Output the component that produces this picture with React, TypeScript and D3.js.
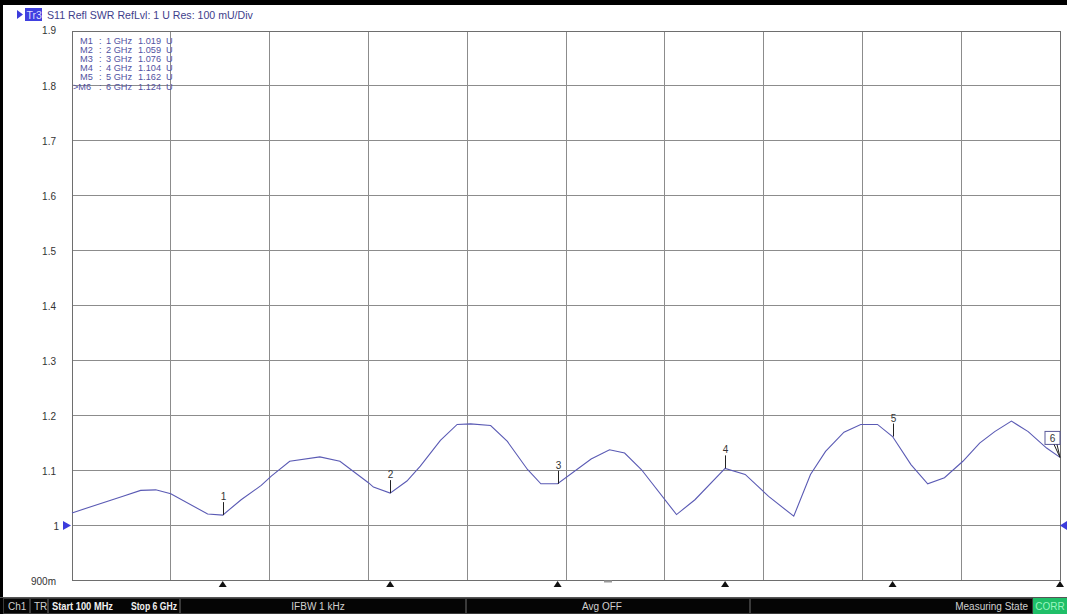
import * as d3 from "d3";

// sweep 100 MHz .. 6 GHz, S11 SWR trace
const freqGHz = [
  0.1, 0.4, 0.51, 0.6, 0.69, 0.91, 1.0, 1.11, 1.23, 1.29, 1.4, 1.58, 1.7, 1.87, 1.9, 2.0,
  2.1, 2.18, 2.3, 2.4, 2.48, 2.6, 2.7, 2.82, 2.9, 3.0, 3.2, 3.31, 3.4, 3.5, 3.71, 3.82,
  4.0, 4.12, 4.26, 4.41, 4.51, 4.6, 4.71, 4.81, 4.91, 5.0, 5.11, 5.21, 5.31, 5.42, 5.52,
  5.61, 5.71, 5.81, 5.92, 6.0,
];
const swr = [
  1.023, 1.053, 1.064, 1.065, 1.058, 1.021, 1.019, 1.047, 1.073, 1.09, 1.117, 1.125, 1.117,
  1.078, 1.07, 1.059, 1.081, 1.108, 1.155, 1.184, 1.185, 1.182, 1.153, 1.102, 1.076, 1.076,
  1.121, 1.138, 1.132, 1.102, 1.02, 1.047, 1.104, 1.093, 1.053, 1.017, 1.093, 1.135, 1.17,
  1.184, 1.184, 1.162, 1.111, 1.076, 1.087, 1.117, 1.15, 1.171, 1.19, 1.171, 1.141, 1.124,
];

const markerNames = ["M1", "M2", "M3", "M4", "M5", "M6"];
const markerFreq = [1, 2, 3, 4, 5, 6];
const markerVal = [1.019, 1.059, 1.076, 1.104, 1.162, 1.124];

const yTicks = [1.9, 1.8, 1.7, 1.6, 1.5, 1.4, 1.3, 1.2, 1.1, 1.0, 0.9];
const yTickLabels = ["1.9", "1.8", "1.7", "1.6", "1.5", "1.4", "1.3", "1.2", "1.1", "1", "900m"];

const header = "S11 Refl SWR RefLvl: 1  U Res: 100 mU/Div";

const W = 1067;
const H = 614;
const L = 72;
const R = 1060;
const T = 31;
const B = 580.5;

const x = d3.scaleLinear().domain([0.1, 6]).range([L, R]);
const y = d3.scaleLinear().domain([0.9, 1.9]).range([B, T]);

const TRACE = "#5a5ab4";
const GRID = "#8c8c8c";
const LEGEND = "#5252a2";
const FONT = "'Liberation Sans', Arial, sans-serif";

export default function App(): JSX.Element {
  const line = d3
    .line<number>()
    .x((_, i) => x(freqGHz[i]))
    .y((d) => y(d));

  const vDivs = d3.range(11).map((i) => L + ((R - L) * i) / 10);

  const status = [
    { x0: 3, x1: 30, text: "Ch1", anchor: "start", tx: 8 },
    { x0: 30, x1: 48, text: "TR", anchor: "start", tx: 34 },
    { x0: 48, x1: 180, text: "", anchor: "start", tx: 0 },
    { x0: 180, x1: 466, text: "IFBW 1 kHz", anchor: "middle", tx: 318 },
    { x0: 466, x1: 750, text: "Avg OFF", anchor: "middle", tx: 602 },
    { x0: 750, x1: 1033, text: "Measuring State", anchor: "end", tx: 1028 },
  ];

  return (
    <div style={{ position: "absolute", left: 0, top: 0, width: W, height: H }}>
      <svg width={W} height={H} viewBox={`0 0 ${W} ${H}`} style={{ display: "block" }}>
        <rect x={0} y={0} width={W} height={H} fill="#fff" />
        <rect x={0} y={0} width={W} height={5} fill="#000" />
        <rect x={0} y={0} width={3} height={H} fill="#000" />

        {/* title line */}
        <path d="M17,10 L23,14.5 L17,19 Z" fill="#3c3cdc" />
        <rect x={25} y={8} width={17} height={13} fill="#4040e0" />
        <text x={26.5} y={18.5} fontFamily={FONT} fontSize={10.5} fill="#dcdcff">
          Tr3
        </text>
        <text x={47} y={18.5} fontFamily={FONT} fontSize={10.6} fill="#3e3e8c">
          {header}
        </text>

        {/* grid */}
        <g stroke={GRID} strokeWidth={1} shapeRendering="crispEdges">
          {yTicks.map((t) => (
            <line key={`h${t}`} x1={L} x2={R} y1={y(t)} y2={y(t)} />
          ))}
          {vDivs.map((v, i) => (
            <line key={`v${i}`} x1={v} x2={v} y1={T} y2={B} />
          ))}
        </g>
        <rect x={L} y={T} width={R - L} height={B - T} fill="none" stroke="#6e6e6e" shapeRendering="crispEdges" />

        {/* y tick labels */}
        {yTicks.map((t, i) => (
          <text
            key={`yl${t}`}
            x={i === 9 ? 59 : 56}
            y={y(t) + (i === 0 ? 3 : 4)}
            textAnchor="end"
            fontFamily={FONT}
            fontSize={10}
            fill="#333"
          >
            {yTickLabels[i]}
          </text>
        ))}

        {/* reference level arrows */}
        <path d={`M63,${y(1) - 4.5} L71,${y(1)} L63,${y(1) + 4.5} Z`} fill="#3c3cdc" />
        <path d={`M1067,${y(1) - 4.5} L1060,${y(1)} L1067,${y(1) + 4.5} Z`} fill="#3c3cdc" />

        {/* marker table */}
        {markerNames.map((m, i) => (
          <text key={m} y={44 + i * 9.1} fontFamily={FONT} fontSize={9.2} fill={LEGEND}>
            <tspan x={i === 5 ? 73 : 80}>{i === 5 ? ">" + m : m}</tspan>
            <tspan x={99}>:</tspan>
            <tspan x={106}>{markerFreq[i]} GHz</tspan>
            <tspan x={138}>{markerVal[i].toFixed(3)}</tspan>
            <tspan x={166}>U</tspan>
          </text>
        ))}

        {/* trace */}
        <path d={line(swr) ?? ""} fill="none" stroke={TRACE} strokeWidth={1.1} />

        {/* marker flags */}
        {markerFreq.slice(0, 5).map((f, i) => {
          const mx = Math.round(x(f)) + 0.5;
          const my = y(markerVal[i]);
          return (
            <g key={`mk${i}`}>
              <line x1={mx} x2={mx} y1={my} y2={my - 13} stroke="#222" strokeWidth={1} />
              <text x={mx} y={my - 15} textAnchor="middle" fontFamily={FONT} fontSize={10} fill="#333">
                {i + 1}
              </text>
            </g>
          );
        })}
        {(() => {
          const mx = x(markerFreq[5]);
          const my = y(markerVal[5]);
          return (
            <g>
              <rect x={mx - 15} y={my - 26} width={15} height={13} fill="#fff" stroke="#5a5a9a" strokeWidth={1} />
              <text x={mx - 7.5} y={my - 15.5} textAnchor="middle" fontFamily={FONT} fontSize={10} fill="#333">
                6
              </text>
              <line x1={mx - 6} y1={my - 13} x2={mx} y2={my} stroke="#222" strokeWidth={1} />
              <line x1={mx - 3} y1={my - 13} x2={mx} y2={my} stroke="#222" strokeWidth={1} />
            </g>
          );
        })()}

        {/* marker positions on the frequency axis */}
        {markerFreq.map((f) => {
          const mx = x(f);
          return <path key={`tri${f}`} d={`M${mx - 4},587 L${mx},581 L${mx + 4},587 Z`} fill="#111" />;
        })}
        <rect x={604} y={580.5} width={8} height={2} fill="#9a9a9a" />

        {/* status bar */}
        <rect x={0} y={597} width={W} height={17} fill="#000" />
        <line x1={0} x2={W} y1={597.5} y2={597.5} stroke="#555" />
        {status.map((s, i) => (
          <g key={`st${i}`}>
            <rect x={s.x0 + 0.5} y={598.5} width={s.x1 - s.x0 - 1} height={15} fill="#050505" stroke="#3a3a3a" />
            {s.text && (
              <text x={s.tx} y={610} textAnchor={s.anchor as "start"} fontFamily={FONT} fontSize={10} fill="#d0d0d0">
                {s.text}
              </text>
            )}
          </g>
        ))}
        <text
          x={52}
          y={610}
          fontFamily={FONT}
          fontSize={10}
          fontWeight="bold"
          fill="#f0f0f0"
          textLength={61}
          lengthAdjust="spacingAndGlyphs"
        >
          Start 100 MHz
        </text>
        <text
          x={131}
          y={610}
          fontFamily={FONT}
          fontSize={10}
          fontWeight="bold"
          fill="#f0f0f0"
          textLength={46}
          lengthAdjust="spacingAndGlyphs"
        >
          Stop 6 GHz
        </text>
        <rect x={1033} y={598} width={34} height={16} fill="#1fbf68" />
        <text x={1050} y={610} textAnchor="middle" fontFamily={FONT} fontSize={10} fill="#9cf5c0">
          CORR
        </text>
      </svg>
    </div>
  );
}
